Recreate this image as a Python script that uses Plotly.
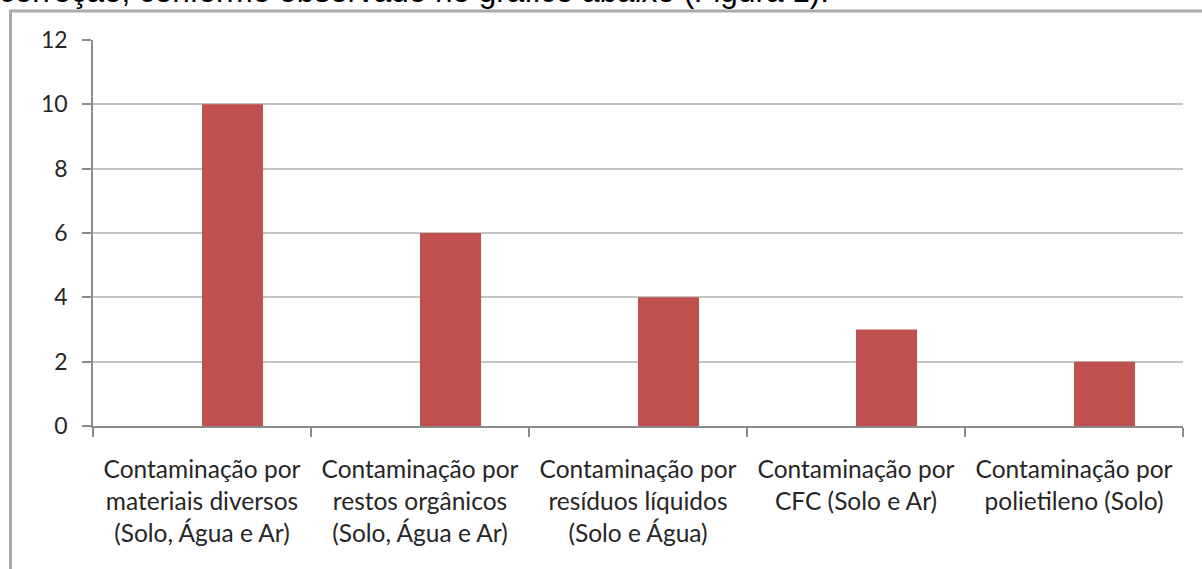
import plotly.graph_objects as go

categories = [
    "Contaminação por<br>materiais diversos<br>(Solo, Água e Ar)",
    "Contaminação por<br>restos orgânicos<br>(Solo, Água e Ar)",
    "Contaminação por<br>resíduos líquidos<br>(Solo e Água)",
    "Contaminação por<br>CFC (Solo e Ar)",
    "Contaminação por<br>polietileno (Solo)",
]
values = [10, 6, 4, 3, 2]
y_ticks = [0, 2, 4, 6, 8, 10, 12]
caption = "correção, conforme observado no gráfico abaixo (Figura 1)."

FONT = "Lato"
W, H = 1202, 569
L, R, T, B = 93, 19, 40, 143
pw, ph = W - L - R, H - T - B

def px_x(p):
    return (p - L) / pw

def px_y(p):
    return (H - B - p) / ph

fig = go.Figure()
fig.add_trace(go.Bar(
    x=categories, y=values,
    marker=dict(color="#C0504D", line=dict(width=0)),
    width=0.28, offset=0.0,
    hoverinfo="x+y",
))

fig.update_layout(
    width=W, height=H,
    margin=dict(l=L, r=R, t=T, b=B),
    paper_bgcolor="white", plot_bgcolor="white",
    showlegend=False,
    font=dict(family=FONT, color="#262626"),
    xaxis=dict(
        type="category", tickson="boundaries",
        showgrid=False, showline=True, linecolor="#8c8c8c", linewidth=1.5,
        ticks="outside", ticklen=9, tickcolor="#8c8c8c", tickwidth=1.5,
        tickfont=dict(size=24.5, family=FONT, color="#262626"),
        ticklabelstandoff=21,
    ),
    yaxis=dict(
        range=[0, 12], tickvals=y_ticks, ticktext=[str(v) for v in y_ticks],
        showgrid=True, gridcolor="#c3c3c3", gridwidth=1.5,
        showline=True, linecolor="#8c8c8c", linewidth=1.5,
        ticks="outside", ticklen=9, tickcolor="#8c8c8c", tickwidth=1.5,
        tickfont=dict(size=23, family=FONT, color="#262626"),
        ticklabelstandoff=10, zeroline=False,
    ),
    shapes=[
        dict(type="line", xref="paper", yref="paper",
             x0=px_x(10.5), x1=px_x(10.5), y0=px_y(10), y1=px_y(H + 5),
             line=dict(color="#aaaaaa", width=3)),
        dict(type="line", xref="paper", yref="paper",
             x0=px_x(9), x1=px_x(W + 5), y0=px_y(11), y1=px_y(11),
             line=dict(color="#aaaaaa", width=3)),
    ],
    annotations=[
        dict(text=caption, xref="paper", yref="paper",
             x=px_x(-3), y=px_y(11.5), xanchor="left", yanchor="bottom",
             showarrow=False, font=dict(family="Liberation Sans", size=31.5, color="black")),
    ],
)

fig.write_html(
    "out.html",
    config={"displayModeBar": False},
    post_script="document.body.style.margin='0';document.body.style.overflow='hidden';",
)
